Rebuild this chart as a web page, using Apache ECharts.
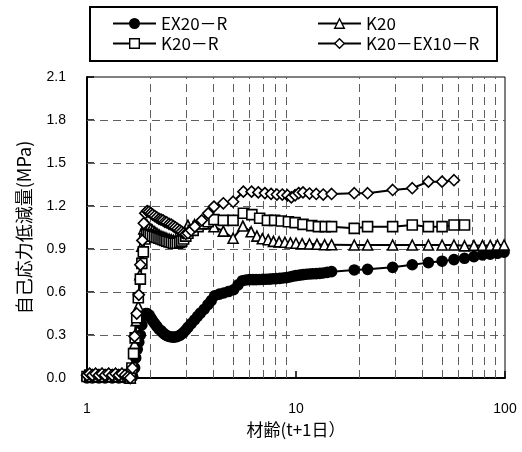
<!DOCTYPE html>
<html>
<head>
<meta charset="utf-8">
<script src="https://cdn.jsdelivr.net/npm/echarts@6/dist/echarts.min.js"></script>
<style>
  html, body { margin: 0; padding: 0; background: #fff; }
  #chart { width: 522px; height: 452px; }
</style>
</head>
<body>
<div id="chart"></div>
<script>
// Series names as shown in the legend
const seriesNames = ['EX20－R', 'K20', 'K20－R', 'K20－EX10－R'];

// [age (t+1 days), self-stress reduction (MPa)]
const ex20r = [
  [1.00,0.00],[1.03,0.01],[1.06,0.00],[1.10,0.01],[1.14,0.00],[1.18,0.01],[1.22,0.00],[1.27,0.01],
  [1.32,0.00],[1.37,0.01],[1.42,0.00],[1.47,0.01],[1.52,0.00],[1.57,0.00],[1.61,0.00],[1.65,0.01],
  [1.69,0.07],[1.71,0.14],[1.74,0.20],[1.77,0.25],[1.80,0.30],[1.83,0.37],[1.87,0.43],[1.91,0.45],
  [1.94,0.45],[1.98,0.44],[2.02,0.42],[2.06,0.40],[2.11,0.38],[2.16,0.36],[2.21,0.34],[2.26,0.33],
  [2.31,0.315],[2.36,0.305],[2.41,0.295],[2.47,0.29],[2.53,0.286],[2.59,0.285],[2.65,0.286],[2.71,0.29],
  [2.78,0.298],[2.84,0.307],[2.90,0.319],[2.97,0.335],[3.04,0.353],[3.15,0.38],[3.27,0.405],[3.38,0.43],
  [3.49,0.453],[3.64,0.48],[3.79,0.512],[3.93,0.54],[4.08,0.574],[4.30,0.585],[4.51,0.593],[4.75,0.603],
  [5.03,0.616],[5.28,0.65],[5.54,0.679],[5.77,0.684],[6.00,0.686],[6.23,0.686],[6.45,0.686],[6.70,0.687],
  [6.95,0.688],[7.20,0.689],[7.48,0.690],[7.75,0.692],[8.05,0.693],[8.35,0.695],[8.66,0.698],[9.00,0.700],
  [9.33,0.705],[9.65,0.710],[10.0,0.714],[10.4,0.718],[10.8,0.721],[11.2,0.724],[11.6,0.726],[12.0,0.727],
  [12.5,0.728],[13.0,0.730],[13.5,0.733],[14.1,0.737],[14.8,0.742],[19,0.754],[22,0.758],[29,0.772],
  [36,0.790],[43,0.805],[50,0.815],[57,0.826],[64,0.835],[71,0.847],[78,0.858],[85,0.864],[92,0.870],[99,0.878]
];

const k20 = [
  [1.00,0.02],[1.03,0.03],[1.06,0.02],[1.10,0.03],[1.14,0.02],[1.18,0.03],[1.22,0.02],[1.27,0.03],
  [1.32,0.02],[1.37,0.03],[1.42,0.02],[1.47,0.03],[1.52,0.02],[1.57,0.01],[1.61,0.00],[1.65,0.05],
  [1.69,0.24],[1.72,0.40],[1.76,0.50],[1.79,0.72],[1.83,0.92],[1.87,1.04],[1.91,1.07],[1.94,1.065],
  [1.98,1.05],[2.02,1.04],[2.06,1.03],[2.11,1.02],[2.16,1.01],[2.21,1.00],[2.26,0.99],[2.31,0.985],
  [2.36,0.98],[2.41,0.975],[2.47,0.97],[2.53,0.965],[2.59,0.96],[2.65,0.96],[2.71,0.96],[2.78,0.965],
  [2.84,0.98],[2.90,1.00],[2.97,1.03],[3.04,1.065],[3.27,1.07],[3.52,1.075],[3.79,1.08],[4.05,1.055],
  [4.49,1.025],[5.00,0.975],[5.57,1.06],[6.10,1.02],[6.50,0.99],[6.90,0.972],[7.36,0.965],[7.80,0.953],
  [8.30,0.950],[8.85,0.947],[9.40,0.942],[10.0,0.940],[10.7,0.937],[11.6,0.935],[12.6,0.933],[13.7,0.930],
  [14.8,0.930],[19,0.928],[22,0.928],[29,0.928],[36,0.928],[43,0.928],[50,0.928],[57,0.928],
  [64,0.922],[71,0.925],[78,0.925],[85,0.925],[92,0.928],[99,0.928]
];

const k20r = [
  [1.00,0.01],[1.03,0.02],[1.06,0.01],[1.10,0.02],[1.14,0.01],[1.18,0.02],[1.22,0.01],[1.27,0.02],
  [1.32,0.01],[1.37,0.02],[1.42,0.01],[1.47,0.02],[1.52,0.01],[1.57,0.01],[1.61,0.00],[1.64,0.07],
  [1.67,0.17],[1.70,0.28],[1.73,0.42],[1.76,0.56],[1.80,0.69],[1.83,0.80],[1.86,0.88],[1.89,0.97],
  [1.93,1.00],[1.97,1.00],[2.01,0.995],[2.06,0.99],[2.11,0.985],[2.16,0.98],[2.21,0.975],[2.26,0.97],
  [2.31,0.965],[2.36,0.96],[2.41,0.955],[2.47,0.95],[2.53,0.945],[2.59,0.94],[2.65,0.94],[2.71,0.94],
  [2.78,0.945],[2.84,0.955],[2.90,0.97],[2.97,0.99],[3.04,1.01],[3.22,1.03],[3.40,1.056],[3.60,1.075],
  [3.80,1.09],[4.05,1.105],[4.49,1.10],[5.00,1.10],[5.60,1.149],[6.15,1.14],[6.70,1.115],[7.30,1.10],
  [7.90,1.10],[8.50,1.095],[9.20,1.09],[9.90,1.084],[10.8,1.072],[11.9,1.063],[12.8,1.056],[13.8,1.056],
  [14.8,1.056],[19,1.044],[22,1.056],[29,1.056],[36,1.067],[43,1.056],[50,1.056],[57,1.067],[64,1.067]
];

const k20ex10r = [
  [1.00,0.02],[1.03,0.03],[1.06,0.02],[1.10,0.03],[1.14,0.02],[1.18,0.03],[1.22,0.02],[1.27,0.03],
  [1.32,0.02],[1.37,0.03],[1.42,0.02],[1.47,0.03],[1.52,0.02],[1.57,0.01],[1.61,0.00],[1.65,0.07],
  [1.69,0.29],[1.73,0.45],[1.77,0.58],[1.80,0.79],[1.84,0.96],[1.87,1.08],[1.90,1.15],[1.94,1.165],
  [1.98,1.16],[2.02,1.15],[2.06,1.14],[2.11,1.13],[2.16,1.12],[2.21,1.11],[2.26,1.105],[2.31,1.10],
  [2.36,1.09],[2.41,1.085],[2.47,1.075],[2.53,1.07],[2.59,1.06],[2.65,1.05],[2.71,1.04],[2.78,1.03],
  [2.84,1.02],[2.90,1.01],[2.97,1.005],[3.04,1.01],[3.15,1.03],[3.28,1.056],[3.54,1.10],[3.80,1.149],
  [4.05,1.196],[4.49,1.219],[5.00,1.23],[5.60,1.30],[6.13,1.30],[6.60,1.295],[7.10,1.29],[7.60,1.285],
  [8.10,1.28],[8.60,1.28],[9.10,1.275],[9.50,1.26],[9.90,1.275],[10.3,1.29],[10.8,1.295],[11.6,1.287],
  [12.5,1.284],[13.5,1.28],[14.8,1.284],[19,1.289],[22,1.289],[29,1.312],[36,1.324],[43,1.37],
  [50,1.37],[57,1.38]
];

// Dashed reference lines
const dayGridLines = [2, 3, 4, 5, 6, 7, 8, 9, 20, 30, 40, 50, 60, 70, 80, 90];
const valueGridLines = [0.3, 0.6, 0.9, 1.2, 1.5, 1.8];

const xTitle = '材齢(t+1日）';
const yTitle = '自己応力低減量(MPa)';

const cjkFont = '"Noto Sans CJK JP", sans-serif';
const latinFont = '"Liberation Sans", Arial, sans-serif';

const gridDash = { type: [8, 5], color: '#5f5f5f', width: 1 };

function markerSeries(name, data, symbol, size, filled) {
  return {
    name: name,
    type: 'line',
    data: data,
    symbol: symbol,
    symbolSize: size,
    showSymbol: true,
    z: 5,
    lineStyle: { color: '#000', width: 2 },
    itemStyle: {
      color: filled ? '#000' : '#fff',
      borderColor: '#000',
      borderWidth: 1.6
    },
    emphasis: { disabled: true }
  };
}

function legendAt(name, left, top, filled) {
  return {
    data: [name],
    left: left,
    top: top,
    padding: 0,
    itemWidth: 43,
    itemHeight: 12,
    selectedMode: false,
    textStyle: { fontFamily: cjkFont, fontSize: 17, color: '#000' },
    lineStyle: { color: '#000', width: 2 },
    itemStyle: { color: filled ? '#000' : '#fff', borderColor: '#000', borderWidth: 1.4 }
  };
}

const chart = echarts.init(document.getElementById('chart'), null, { renderer: 'canvas' });

chart.setOption({
  animation: false,
  backgroundColor: '#fff',
  grid: {
    left: 87, right: 17, top: 77, bottom: 74,
    show: true, borderColor: '#000', borderWidth: 1, backgroundColor: 'transparent'
  },
  legend: [
    legendAt(seriesNames[0], 112, 15, true),
    legendAt(seriesNames[1], 317, 15, false),
    legendAt(seriesNames[2], 112, 35, false),
    legendAt(seriesNames[3], 317, 35, false)
  ],
  graphic: [{
    type: 'rect',
    shape: { x: 90, y: 7, width: 407, height: 54 },
    style: { fill: 'none', stroke: '#000', lineWidth: 2 },
    silent: true
  }],
  xAxis: {
    type: 'log',
    logBase: 10,
    min: 1,
    max: 100,
    name: xTitle,
    nameLocation: 'middle',
    nameGap: 34,
    nameTextStyle: { fontFamily: cjkFont, fontSize: 17, color: '#000' },
    axisLine: { lineStyle: { color: '#000', width: 2 } },
    axisTick: { inside: true, length: 7, lineStyle: { color: '#000', width: 1.5 } },
    axisLabel: { fontFamily: latinFont, fontSize: 14, color: '#000', margin: 24 },
    splitLine: { show: false },
    minorTick: { show: false },
    minorSplitLine: { show: false }
  },
  yAxis: {
    type: 'value',
    min: 0,
    max: 2.1,
    interval: 0.3,
    name: yTitle,
    nameLocation: 'middle',
    nameRotate: 90,
    nameGap: 54,
    nameTextStyle: { fontFamily: cjkFont, fontSize: 18, color: '#000' },
    axisLine: { lineStyle: { color: '#000', width: 2 } },
    axisTick: { inside: true, length: 7, lineStyle: { color: '#000', width: 1.5 } },
    axisLabel: {
      fontFamily: latinFont, fontSize: 14, color: '#000', margin: 21,
      formatter: v => v.toFixed(1)
    },
    splitLine: { show: false }
  },
  series: [
    {
      name: 'grid-lines',
      type: 'line',
      data: [],
      z: 1,
      silent: true,
      markLine: {
        silent: true,
        symbol: 'none',
        animation: false,
        label: { show: false },
        emphasis: { disabled: true },
        lineStyle: gridDash,
        data: dayGridLines.map(d => ({ xAxis: d }))
          .concat(valueGridLines.map(v => ({ yAxis: v })))
      }
    },
    markerSeries(seriesNames[0], ex20r, 'circle', 10, true),
    markerSeries(seriesNames[1], k20, 'triangle', 10, false),
    markerSeries(seriesNames[2], k20r, 'rect', 10, false),
    markerSeries(seriesNames[3], k20ex10r, 'diamond', 11, false)
  ]
});
</script>
</body>
</html>
